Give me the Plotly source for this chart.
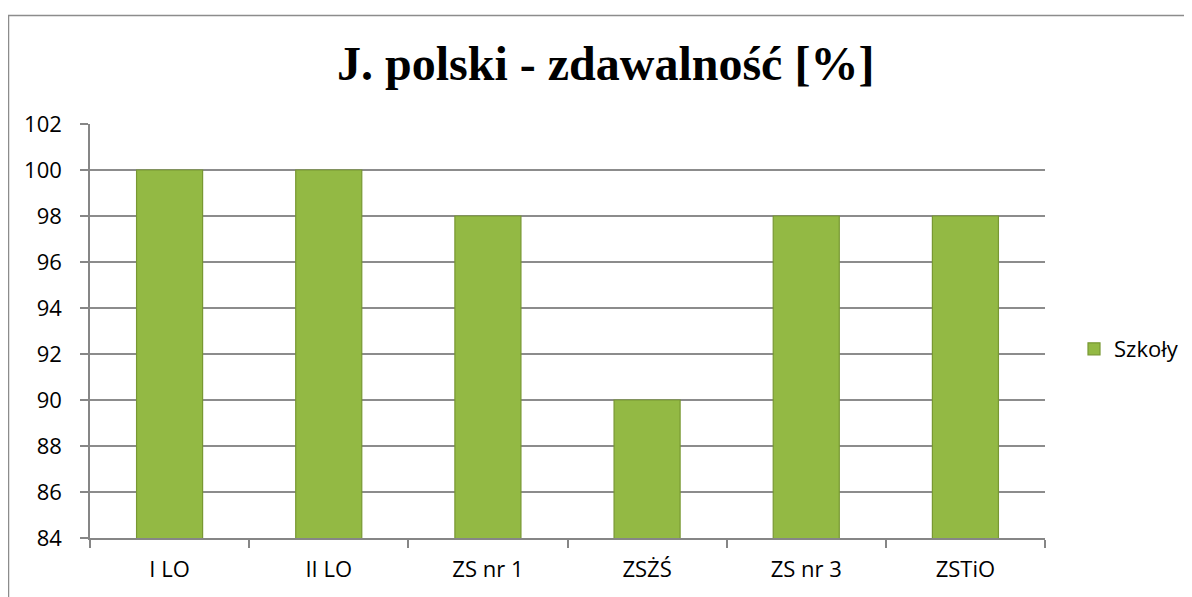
import plotly.graph_objects as go

categories = ["I LO", "II LO", "ZS nr 1", "ZSŻŚ", "ZS nr 3", "ZSTiO"]
values = [100, 100, 98, 90, 98, 98]
series_name = "Szkoły"
title_text = "J. polski - zdawalność [%]"
y_ticks = [84, 86, 88, 90, 92, 94, 96, 98, 100, 102]
y_min, y_max = 84, 102

# page is offset by 8px body margin; work in figure coordinates
OFF = 8
W, H = 1192, 597
L, T = 90 - OFF, 124 - OFF
R = W - (1045 - OFF)
B = H - (538 - OFF)
pw, ph = W - L - R, H - T - B

def px(x):
    return (x - OFF - L) / pw

def py(y):
    return (H - B - (y - OFF)) / ph

font_family = "Open Sans, Lato, sans-serif"

fig = go.Figure()
fig.add_trace(go.Bar(
    x=categories, y=values, name=series_name,
    marker=dict(color="#93b944", line=dict(color="#789832", width=1.2)),
    width=0.415, showlegend=True,
))

fig.update_layout(
    width=W, height=H,
    margin=dict(l=L, r=R, t=T, b=B),
    paper_bgcolor="white", plot_bgcolor="white",
    font=dict(family=font_family, size=22, color="black"),
    showlegend=True,
    legend=dict(x=px(1074), y=py(349), xanchor="left", yanchor="middle",
                font=dict(size=22, family=font_family), bgcolor="rgba(0,0,0,0)",
                itemwidth=30),
    annotations=[dict(
        text="<b>" + title_text + "</b>", x=px(605), y=py(63),
        xref="paper", yref="paper", xanchor="center", yanchor="middle",
        showarrow=False, font=dict(family="Liberation Serif, Times New Roman, serif", size=48, color="black"),
    )],
    shapes=[dict(type="rect", xref="paper", yref="paper",
                 x0=px(8.5), x1=px(1260), y0=py(650), y1=py(15.5),
                 line=dict(color="#8c8c8c", width=1.5), fillcolor="rgba(0,0,0,0)", layer="below")],
)
fig.update_xaxes(
    type="category", showline=True, linecolor="#868686", linewidth=1.5,
    ticks="outside", tickson="boundaries", ticklen=8, tickcolor="#868686", tickwidth=1.5,
    showgrid=False, tickfont=dict(size=22, family=font_family), ticklabelstandoff=11,
)
fig.update_yaxes(
    range=[y_min, y_max], tickvals=y_ticks, showline=True, linecolor="#868686", linewidth=1.5,
    ticks="outside", ticklen=8, tickcolor="#868686", tickwidth=1.5,
    showgrid=True, gridcolor="#8c8c8c", gridwidth=1.5,
    tickfont=dict(size=22, family=font_family), ticklabelstandoff=14, zeroline=False,
)

fig.write_html("out.html")
